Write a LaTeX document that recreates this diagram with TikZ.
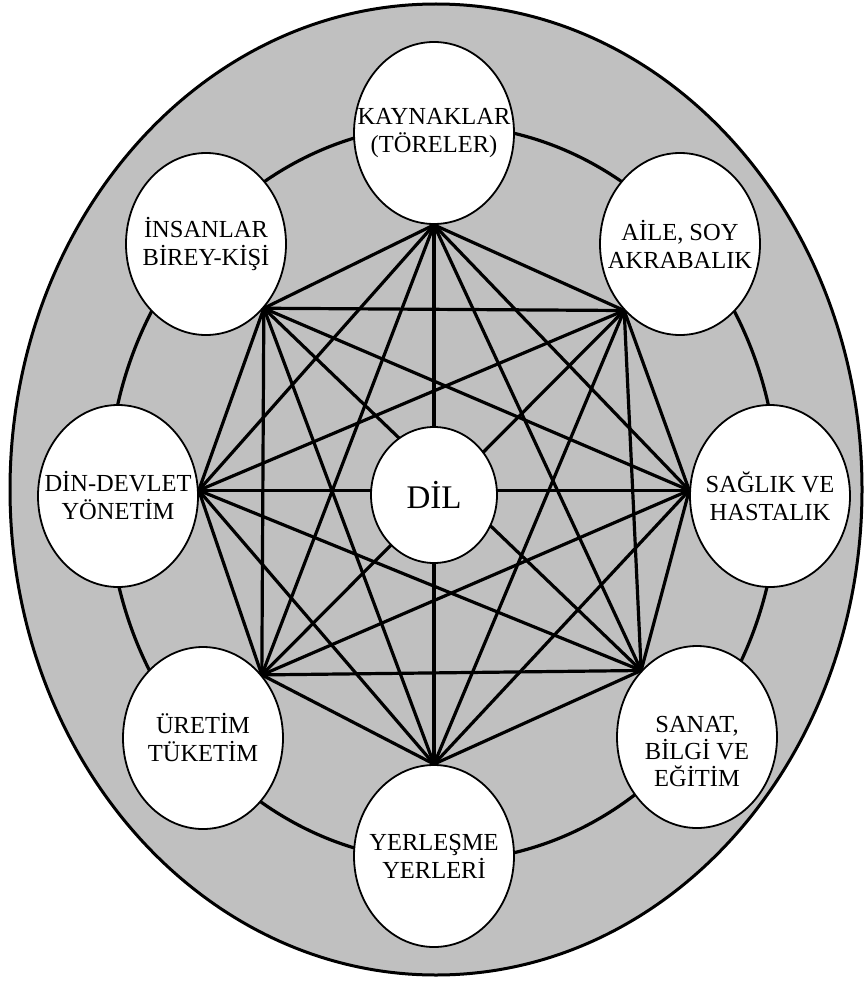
\documentclass[tikz,border=0pt]{standalone}
\usepackage{fontspec}
\setmainfont{Liberation Serif}
\usetikzlibrary{shapes.geometric,backgrounds}
\definecolor{bggray}{RGB}{192,192,192}
\begin{document}
\begin{tikzpicture}[x=1pt,y=-1pt,
  topic/.style={ellipse, draw, line width=1.8pt, fill=white, minimum width=160pt, minimum height=182pt, inner sep=0pt},
  topictext/.style={align=center, inner sep=0pt, font=\fontsize{24.5}{28}\selectfont},
  link/.style={line width=3.2pt},
  ringline/.style={line width=3.2pt},
  outer/.style={line width=3pt, fill=bggray},
]
\useasboundingbox (0,0) rectangle (865,987);
\node[topic, label={[topictext]center:KAYNAKLAR\\(TÖRELER)}] (kay) at (434,133) {};
\node[topic, label={[topictext]center:İNSANLAR\\BİREY-KİŞİ}] (ins) at (206,244) {};
\node[topic, label={[topictext]center:AİLE, SOY\\AKRABALIK}] (aile) at (680,244) {};
\node[topic, label={[topictext]center:DİN-DEVLET\\YÖNETİM}] (din) at (118,496) {};
\node[topic, label={[topictext]center:SAĞLIK VE\\HASTALIK}] (sag) at (770,496) {};
\node[topic, label={[topictext, yshift=-14pt, font=\fontsize{24.5}{27}\selectfont]center:SANAT,\\BİLGİ VE\\EĞİTİM}] (san) at (697,737) {};
\node[topic, label={[topictext]center:ÜRETİM\\TÜKETİM}] (ure) at (203,738) {};
\node[topic, label={[topictext]center:YERLEŞME\\YERLERİ}] (yer) at (434,856) {};
\node[topic, minimum width=126pt, minimum height=136pt, label={[topictext, font=\fontsize{33}{38}\selectfont]center:DİL}] (dil) at (434,495) {};

\coordinate (vT) at (kay.south);
\coordinate (vUR) at (aile.-130);
\coordinate (vR) at (sag.176);
\coordinate (vLR) at (san.130);
\coordinate (vB) at (yer.north);
\coordinate (vLL) at (ure.47);
\coordinate (vL) at (din.4);
\coordinate (vUL) at (ins.-48);

\begin{pgfonlayer}{background}
\draw[outer] (436,489.5) ellipse [x radius=426pt, y radius=485.5pt];
\draw[ringline] (443,493) ellipse [x radius=335pt, y radius=368pt];
\foreach \a/\b in {vT/vUR, vT/vR, vT/vLR, vT/vB, vT/vLL, vT/vL, vT/vUL,
                   vUR/vR, vUR/vLR, vUR/vB, vUR/vLL, vUR/vL, vUR/vUL,
                   vR/vLR, vR/vB, vR/vLL, vR/vL, vR/vUL,
                   vLR/vB, vLR/vLL, vLR/vL, vLR/vUL,
                   vB/vLL, vB/vL, vB/vUL,
                   vLL/vL, vLL/vUL,
                   vL/vUL}
  {\draw[link] (\a) -- (\b);}
\end{pgfonlayer}
\end{tikzpicture}
\end{document}
